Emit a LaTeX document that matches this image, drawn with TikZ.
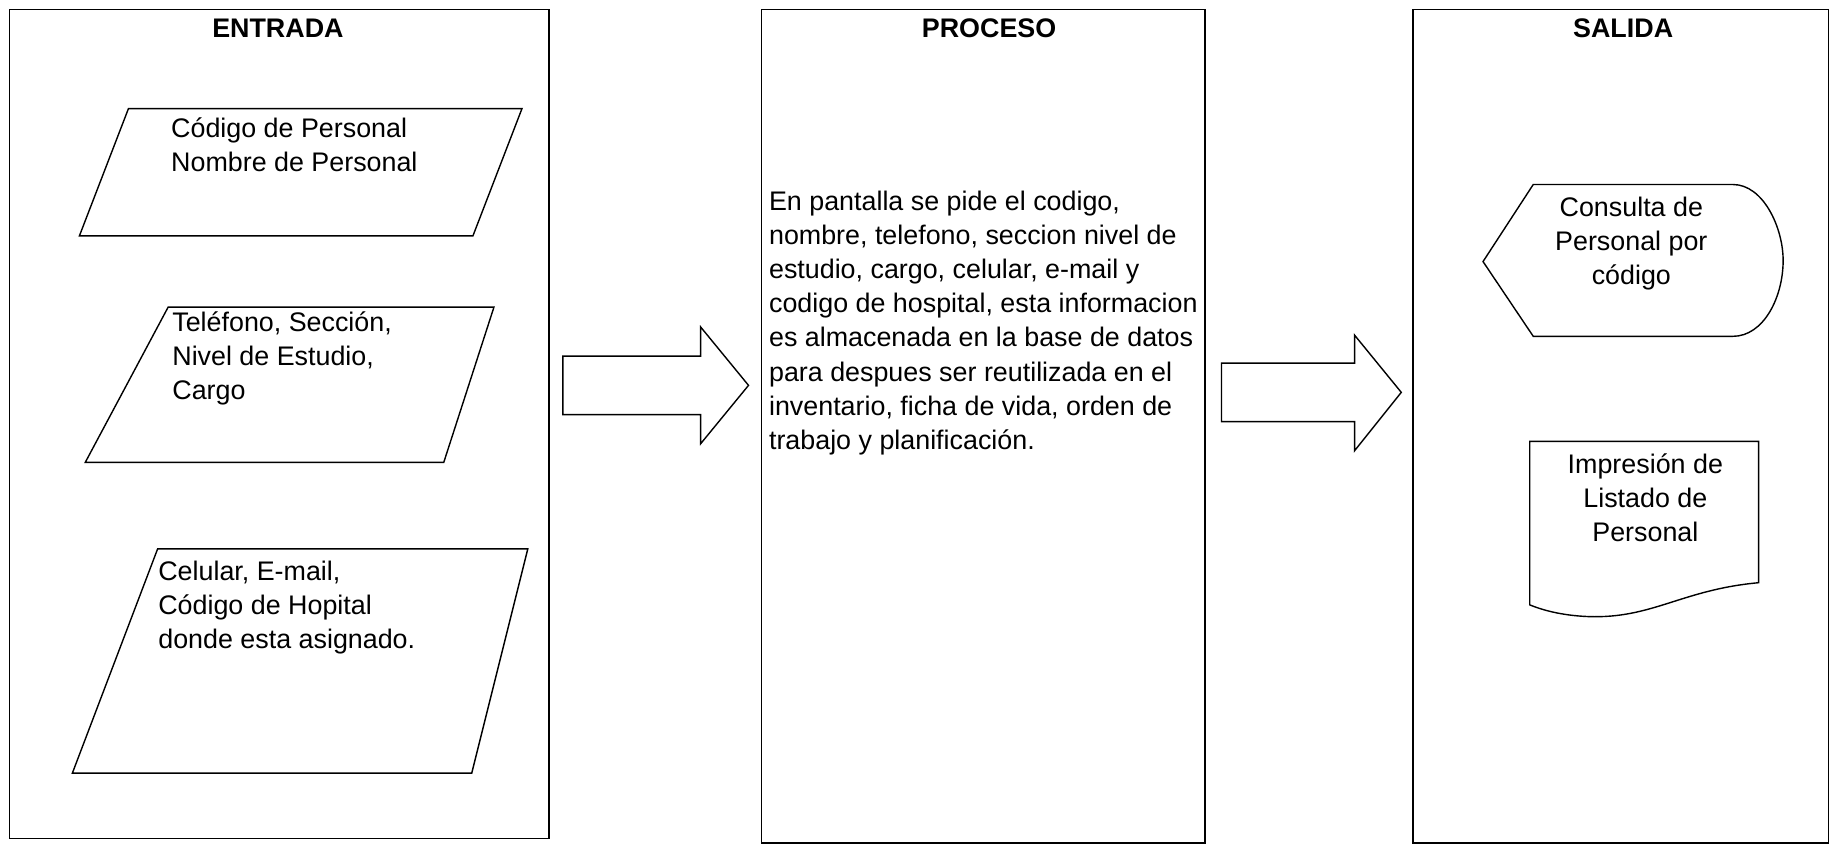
\documentclass[tikz,border=0pt]{standalone}
\usepackage{fontspec}
\setmainfont{Liberation Sans}
\begin{document}
\begin{tikzpicture}[x=0.5pt,y=-0.5pt,line width=0.6pt,line join=miter,
  frame/.style={draw=black},
  ttl/.style={font=\fontsize{11.5}{14.5}\selectfont\bfseries,inner sep=0pt},
  txt/.style={font=\fontsize{11.5}{14.6}\selectfont,align=left,anchor=north west,inner sep=0pt},
  ctxt/.style={font=\fontsize{11.5}{14.6}\selectfont,align=center,anchor=north,inner sep=0pt},
  symb/.style={draw=black}]
  \useasboundingbox (0,0) rectangle (1568,724);

  % columns
  \draw[frame] (8,8) rectangle (470,718);
  \draw[frame] (652,8) rectangle (1032,722);
  \draw[frame] (1210,8) rectangle (1566,722);
  \node[ttl] (entrada) at (238,24) {ENTRADA};
  \node[ttl] (proceso) at (847,24) {PROCESO};
  \node[ttl] (salida) at (1390,24) {SALIDA};

  % entrada
  \draw[symb] (110,93) -- (447,93) -- (405,202) -- (68,202) -- cycle;
  \node[txt] (codigo) at (146,100) {Código de Personal\\Nombre de Personal};
  \draw[symb] (144,263) -- (423,263) -- (380,396) -- (73,396) -- cycle;
  \node[txt] (telefono) at (147,266) {Teléfono, Sección,\\Nivel de Estudio,\\Cargo};
  \draw[symb] (135,470) -- (452,470) -- (404,662) -- (62,662) -- cycle;
  \node[txt] (celular) at (135,480) {Celular, E-mail,\\Código de Hopital\\donde esta asignado.};

  % block arrows
  \draw[symb] (482,305) -- (600,305) -- (600,280) -- (641,330) -- (600,380) -- (600,355) -- (482,355) -- cycle;
  \draw[symb] (1046,311) -- (1160,311) -- (1160,287) -- (1200,336) -- (1160,386) -- (1160,361) -- (1046,361) -- cycle;

  % proceso
  \node[txt] (pantalla) at (658,163) {En pantalla se pide el codigo,\\nombre, telefono, seccion nivel de\\estudio, cargo, celular, e-mail y\\codigo de hospital, esta informacion\\es almacenada en la base de datos\\para despues ser reutilizada en el\\inventario, ficha de vida, orden de\\trabajo y planificación.};

  % salida
  \draw[symb] (1270,224) -- (1313,158) -- (1484,158)
    .. controls (1510,158) and (1527,195) .. (1527,223)
    .. controls (1527,255) and (1510,288) .. (1484,288) -- (1313,288) -- cycle;
  \node[ctxt] (consulta) at (1397,168) {Consulta de\\Personal por\\código};
  \draw[symb] (1310,378) -- (1506,378) -- (1506,499)
    .. controls (1440,505) and (1415,530) .. (1360,528)
    .. controls (1336,527) and (1320,522) .. (1310,518) -- cycle;
  \node[ctxt] (impresion) at (1409,388) {Impresión de\\Listado de\\Personal};
\end{tikzpicture}
\end{document}
